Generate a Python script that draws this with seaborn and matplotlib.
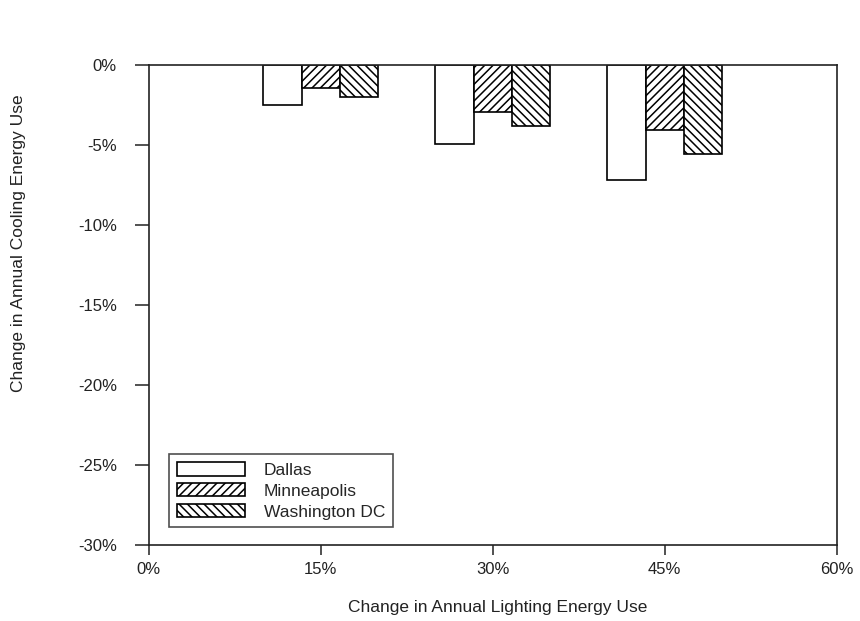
import pandas as pd
import matplotlib
matplotlib.use("Agg")
import matplotlib.pyplot as plt
import seaborn as sns

# Data
lighting_change = [15, 30, 45]
cities = ["Dallas", "Minneapolis", "Washington DC"]
dallas = [-2.5, -4.9, -7.2]
minneapolis = [-1.45, -2.9, -4.05]
washington = [-2.0, -3.8, -5.55]
x_ticks = [0, 15, 30, 45, 60]
y_ticks = [-30, -25, -20, -15, -10, -5, 0]

df = pd.DataFrame({
    "Lighting": lighting_change * 3,
    "City": [c for c in cities for _ in lighting_change],
    "Cooling": dallas + minneapolis + washington,
})

# Plot Style
sns.set_style("white")
plt.rcParams["font.family"] = ["Liberation Sans", "DejaVu Sans"]
plt.rcParams["hatch.linewidth"] = 1.1

fig = plt.figure(figsize=(8.6, 6.21), dpi=100)
ax = fig.add_axes([0.173, 0.122, 0.8, 0.773])

sns.barplot(
    data=df, x="Lighting", y="Cooling", hue="City",
    hue_order=cities, native_scale=True, width=10 / 15,
    palette=["white"] * 3,
    edgecolor="black", linewidth=1.2, ax=ax, legend=False,
)

hatches = ["", "////", "\\\\\\\\"]
for cont, h in zip(ax.containers, hatches):
    for bar in cont:
        bar.set_hatch(h)
        bar.set_facecolor("white")
        bar.set_edgecolor("black")

ax.set_xlim(0, 60)
ax.set_ylim(-30, 0)
ax.set_xticks(x_ticks)
ax.set_xticklabels([f"{v}%" for v in x_ticks])
ax.set_yticks(y_ticks)
ax.set_yticklabels([f"{v}%" for v in y_ticks])

for s in ax.spines.values():
    s.set_visible(True)
    s.set_color("#222222")
    s.set_linewidth(1.2)

ax.tick_params(axis="both", direction="out", width=1.1, bottom=True, left=True,
               colors="#222222", labelsize=12)
ax.tick_params(axis="x", length=7, pad=5)
ax.tick_params(axis="y", length=10, pad=13)

ax.set_xlabel("Change in Annual Lighting Energy Use", fontsize=12.5, color="#222222")
ax.set_ylabel("Change in Annual Cooling Energy Use", fontsize=12.5, color="#222222")
ax.xaxis.set_label_coords(0.507, -0.115)
ax.yaxis.set_label_coords(-0.178, 0.63)

leg = ax.legend(
    ax.containers, cities, loc="lower left", bbox_to_anchor=(0.03, 0.037),
    borderaxespad=0, fontsize=12.5, frameon=True, fancybox=False,
    handlelength=3.9, handleheight=0.8, handletextpad=1.1,
    labelspacing=0.3, borderpad=0.45,
)
leg.get_frame().set_edgecolor("#222222")
leg.get_frame().set_linewidth(1.2)

plt.savefig("out.png", dpi=100)
